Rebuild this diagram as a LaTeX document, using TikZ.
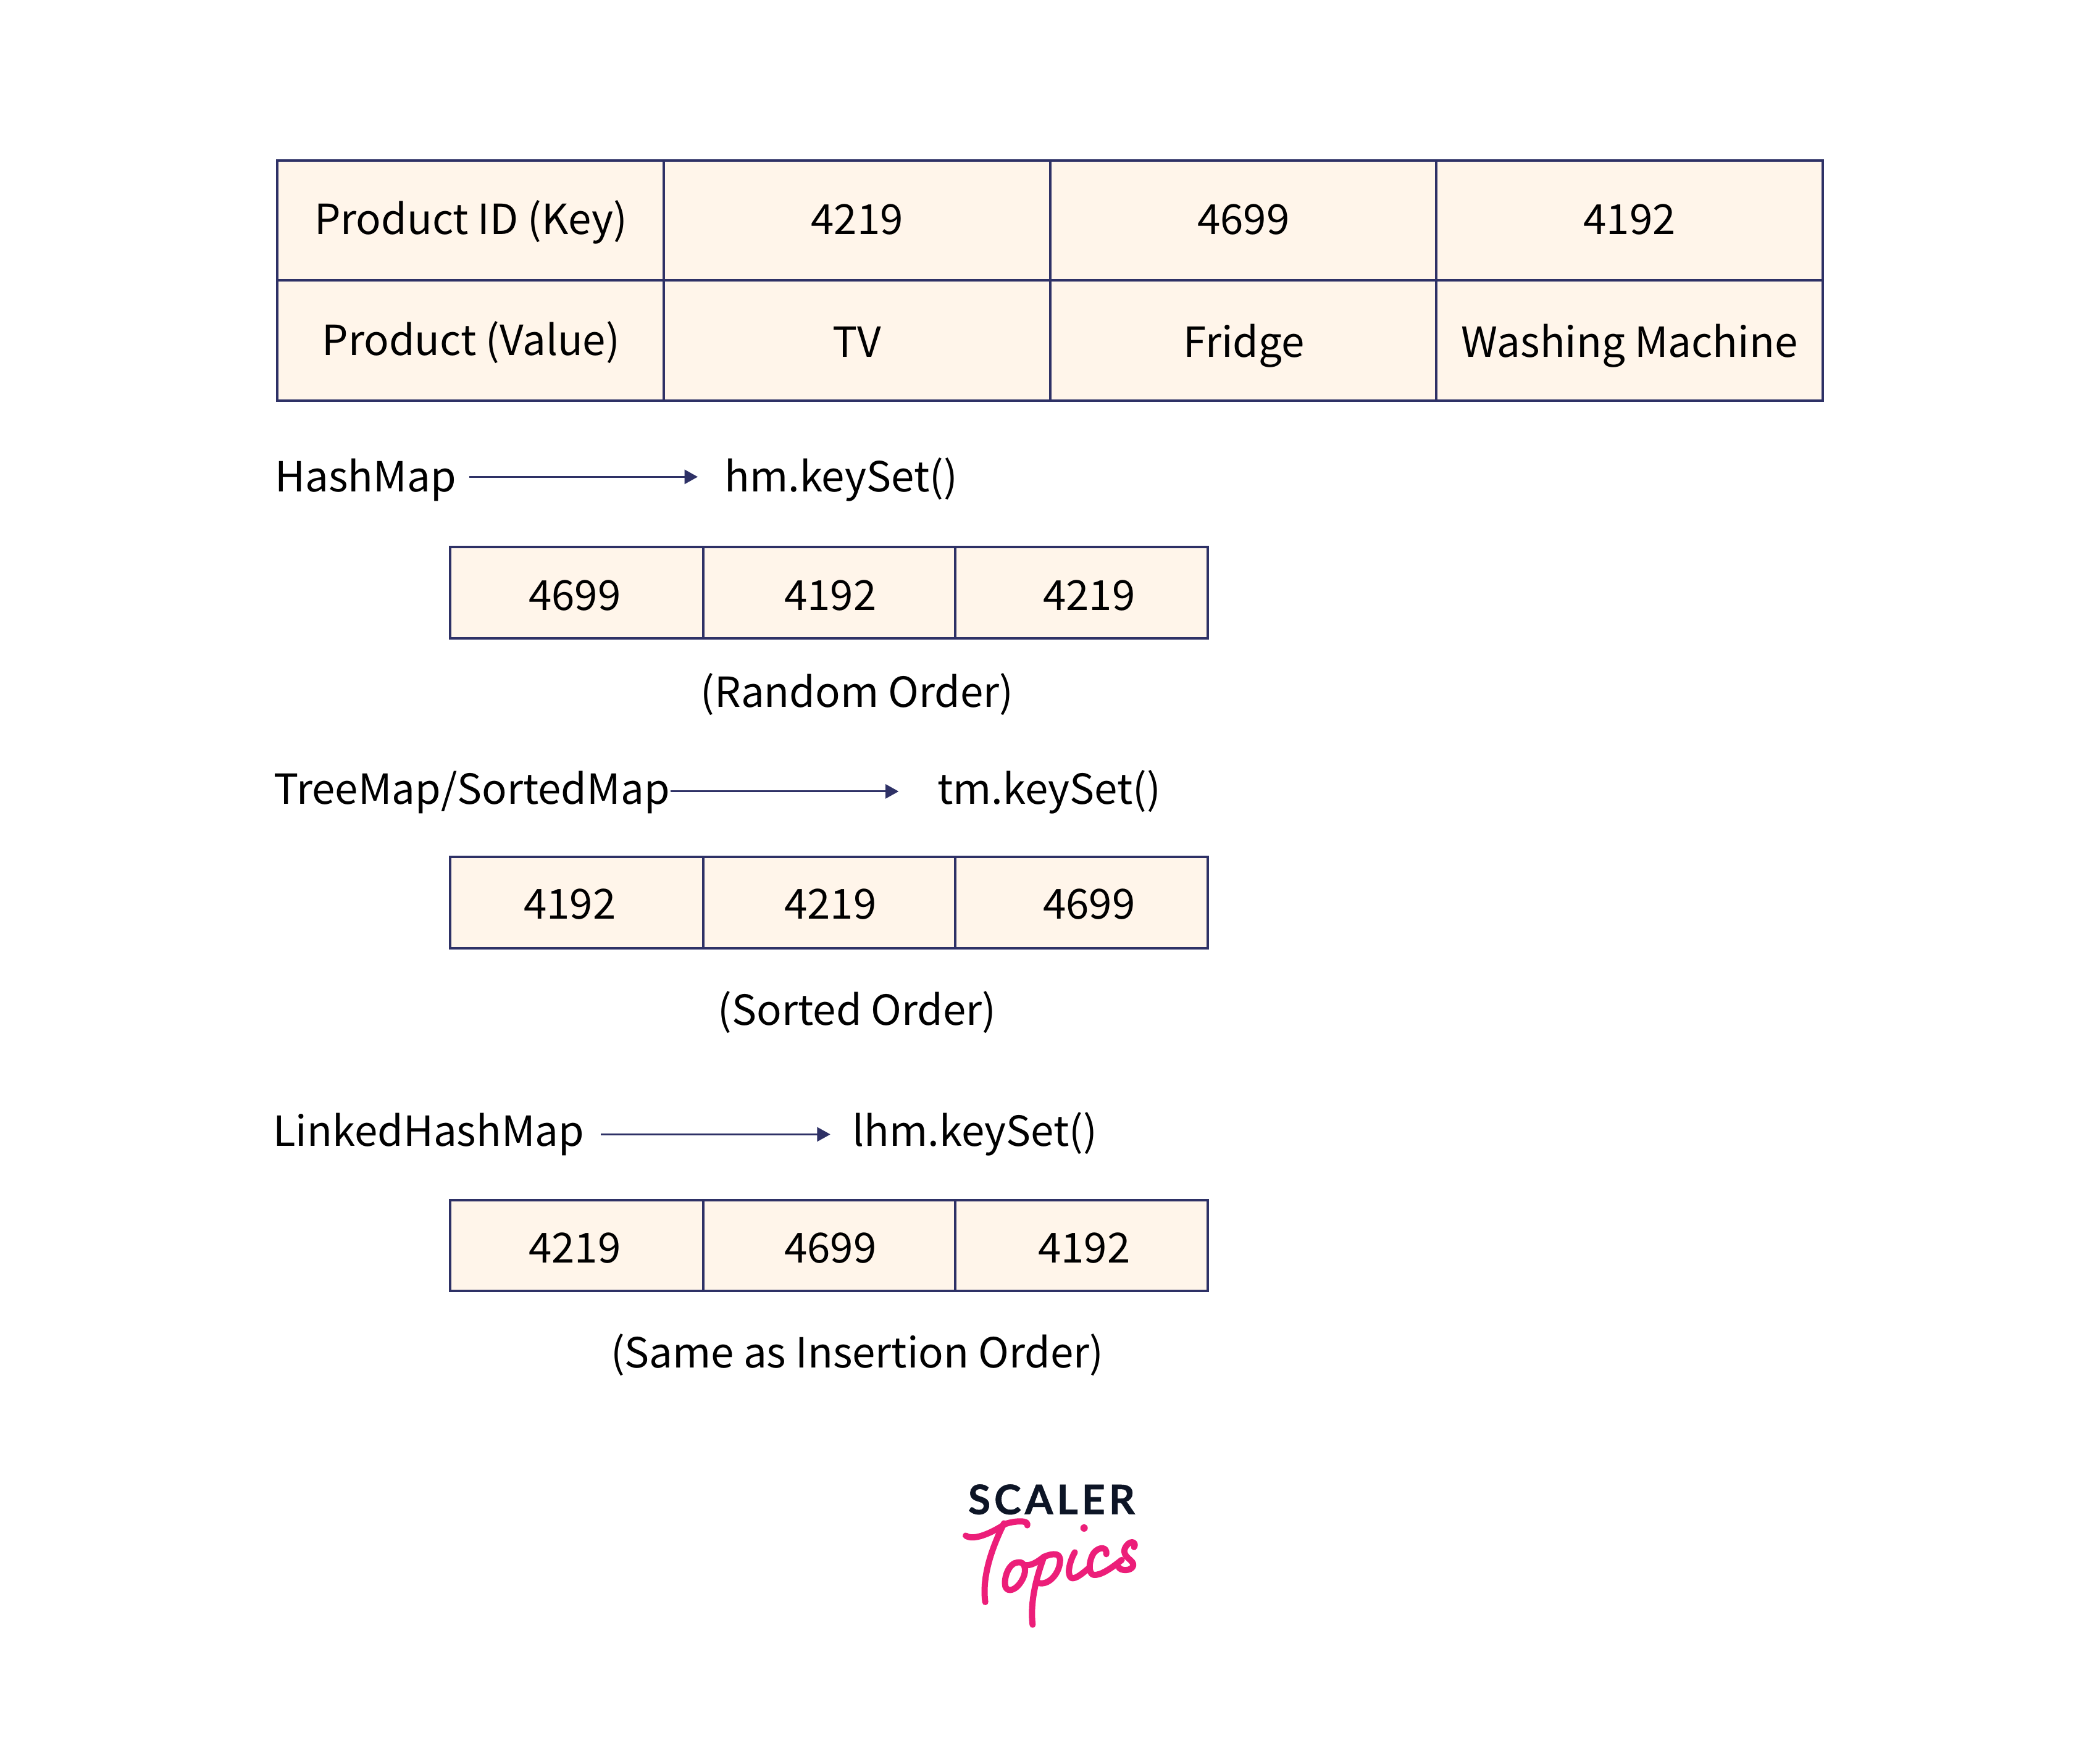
\documentclass[tikz,border=0pt]{standalone}
\usepackage{fontspec}
\setmainfont{Noto Sans CJK SC}
\newfontfamily\logofont[LetterSpace=9,FakeBold=0.8]{Lato}
\usetikzlibrary{arrows.meta}
\definecolor{edge}{HTML}{2E3166}
\definecolor{cellfill}{HTML}{FFF5EA}
\definecolor{navy}{HTML}{0D1526}
\definecolor{pink}{HTML}{EC1E79}
\tikzset{
  cellbox/.style={draw=edge,fill=cellfill,line width=2pt,rectangle,inner sep=0pt,outer sep=0pt},
  txt/.style={anchor=base,inner sep=0pt,outer sep=0pt,yshift=-0.65pt,font=\fontsize{33.6}{40}\selectfont,text=black},
  flow/.style={draw=edge,line width=1.5pt,-{Triangle[length=10.7pt,width=11.5pt,fill=edge]}},
  script/.style={draw=pink,line width=5pt,line cap=round,line join=round},
}
\newcommand{\cellat}[7]{%
  \node[cellbox,minimum width=#4*1.0845pt,minimum height=#5*1.0845pt] (#1) at (#2,#3) {};
  \node[txt] (#1t) at (#6,#7) {\cellcontent};}
\begin{document}
\begin{tikzpicture}[x=1.0845pt,y=-1.0845pt]
\useasboundingbox[fill=white] (0,0) rectangle (1568,1299.7);
% main table
\def\cellcontent{Product ID (Key)}\cellat{a1}{351.25}{164.75}{288.5}{89.5}{351.5}{174.5}
\def\cellcontent{4219}\cellat{a2}{639.75}{164.75}{288.5}{89.5}{640}{174.5}
\def\cellcontent{4699}\cellat{a3}{928.25}{164.75}{288.5}{89.5}{928.5}{174.5}
\def\cellcontent{4192}\cellat{a4}{1216.75}{164.75}{288.5}{89.5}{1216.8}{174.5}
\def\cellcontent{Product (Value)}\cellat{b1}{351.25}{254.25}{288.5}{89.5}{351.6}{264.5}
\def\cellcontent{TV}\cellat{b2}{639.75}{254.25}{288.5}{89.5}{640}{266.2}
\def\cellcontent{Fridge}\cellat{b3}{928.25}{254.25}{288.5}{89.5}{928.7}{266.2}
\def\cellcontent{Washing Machine}\cellat{b4}{1216.75}{254.25}{288.5}{89.5}{1216.75}{266.2}
% HashMap
\node[txt,anchor=base west] (hmn) at (205.5,366.5) {HashMap};
\node[txt,anchor=base west] (hmk) at (541,366.5) {hm.keySet()};
\draw[flow] ([shift={(9.7,-11)}]hmn.base east) -- ([shift={(-20,-11)}]hmk.base west);
\def\cellcontent{4699}\cellat{c1}{430.5}{442.5}{189}{68}{429.2}{455}
\def\cellcontent{4192}\cellat{c2}{619}{442.5}{188}{68}{620}{455}
\def\cellcontent{4219}\cellat{c3}{807.5}{442.5}{189}{68}{813.2}{455}
\node[txt] (cn) at (640,527.5) {(Random Order)};
% TreeMap
\node[txt,anchor=base west] (tmn) at (204.5,600) {TreeMap/SortedMap};
\node[txt,anchor=base west] (tmk) at (700,600) {tm.keySet()};
\draw[flow] ([shift={(0.5,-9.6)}]tmn.base east) -- ([shift={(-29,-9.6)}]tmk.base west);
\def\cellcontent{4192}\cellat{d1}{430.5}{674}{189}{68}{425.4}{685.5}
\def\cellcontent{4219}\cellat{d2}{619}{674}{188}{68}{620}{685.5}
\def\cellcontent{4699}\cellat{d3}{807.5}{674}{189}{68}{813.2}{685.5}
\node[txt] (dn) at (640,765) {(Sorted Order)};
% LinkedHashMap
\node[txt,anchor=base west] (lmn) at (204,855.5) {LinkedHashMap};
\node[txt,anchor=base west] (lmk) at (636.5,855.5) {lhm.keySet()};
\draw[flow] ([shift={(12.6,-9)}]lmn.base east) -- ([shift={(-16.5,-9)}]lmk.base west);
\def\cellcontent{4219}\cellat{e1}{430.5}{930.25}{189}{68}{429.2}{942.5}
\def\cellcontent{4699}\cellat{e2}{619}{930.25}{188}{68}{620}{942.5}
\def\cellcontent{4192}\cellat{e3}{807.5}{930.25}{189}{68}{809.5}{942.5}
\node[txt] (en) at (640,1021) {(Same as Insertion Order)};
% logo, in target-zoom units
\begin{scope}[shift={(691.55,1097.27)},x=0.16667pt,y=-0.16667pt]
\node[anchor=base,inner sep=0pt,text=navy,font=\logofont\bfseries\fontsize{33}{38}\selectfont] (scaler) at (609,218) {SCALER};
% T
\draw[script] (192,322) .. controls (225,345) and (300,320) .. (385,265) .. controls (430,250) and (500,245) .. (491,272);
\draw[script] (378,262) .. controls (320,380) and (270,520) .. (287,645);
% o and link
\draw[script] (445,452) .. controls (400,455) and (375,530) .. (385,570) .. controls (395,600) and (440,590) .. (470,530) .. controls (490,490) and (480,445) .. (445,452);
\draw[script] (478,465) .. controls (510,470) and (540,450) .. (572,425);
% p
\draw[script] (572,425) .. controls (530,540) and (505,650) .. (517,755);
\draw[script] (572,425) .. controls (620,405) and (655,405) .. (650,450) .. controls (645,510) and (590,570) .. (540,550);
% i and c
\draw[script] (722,403) .. controls (700,440) and (680,510) .. (705,528) .. controls (725,535) and (760,505) .. (790,480);
\fill[pink] (767,285) circle[radius=18];
\draw[script] (875,412) .. controls (880,375) and (840,375) .. (815,405) .. controls (790,440) and (785,510) .. (815,513) .. controls (850,515) and (900,480) .. (950,440);
% s
\draw[script] (1010,378) .. controls (1025,350) and (985,340) .. (965,385) .. controls (950,430) and (1015,440) .. (1005,470) .. controls (995,495) and (945,495) .. (935,475);
\end{scope}
\end{tikzpicture}
\end{document}
